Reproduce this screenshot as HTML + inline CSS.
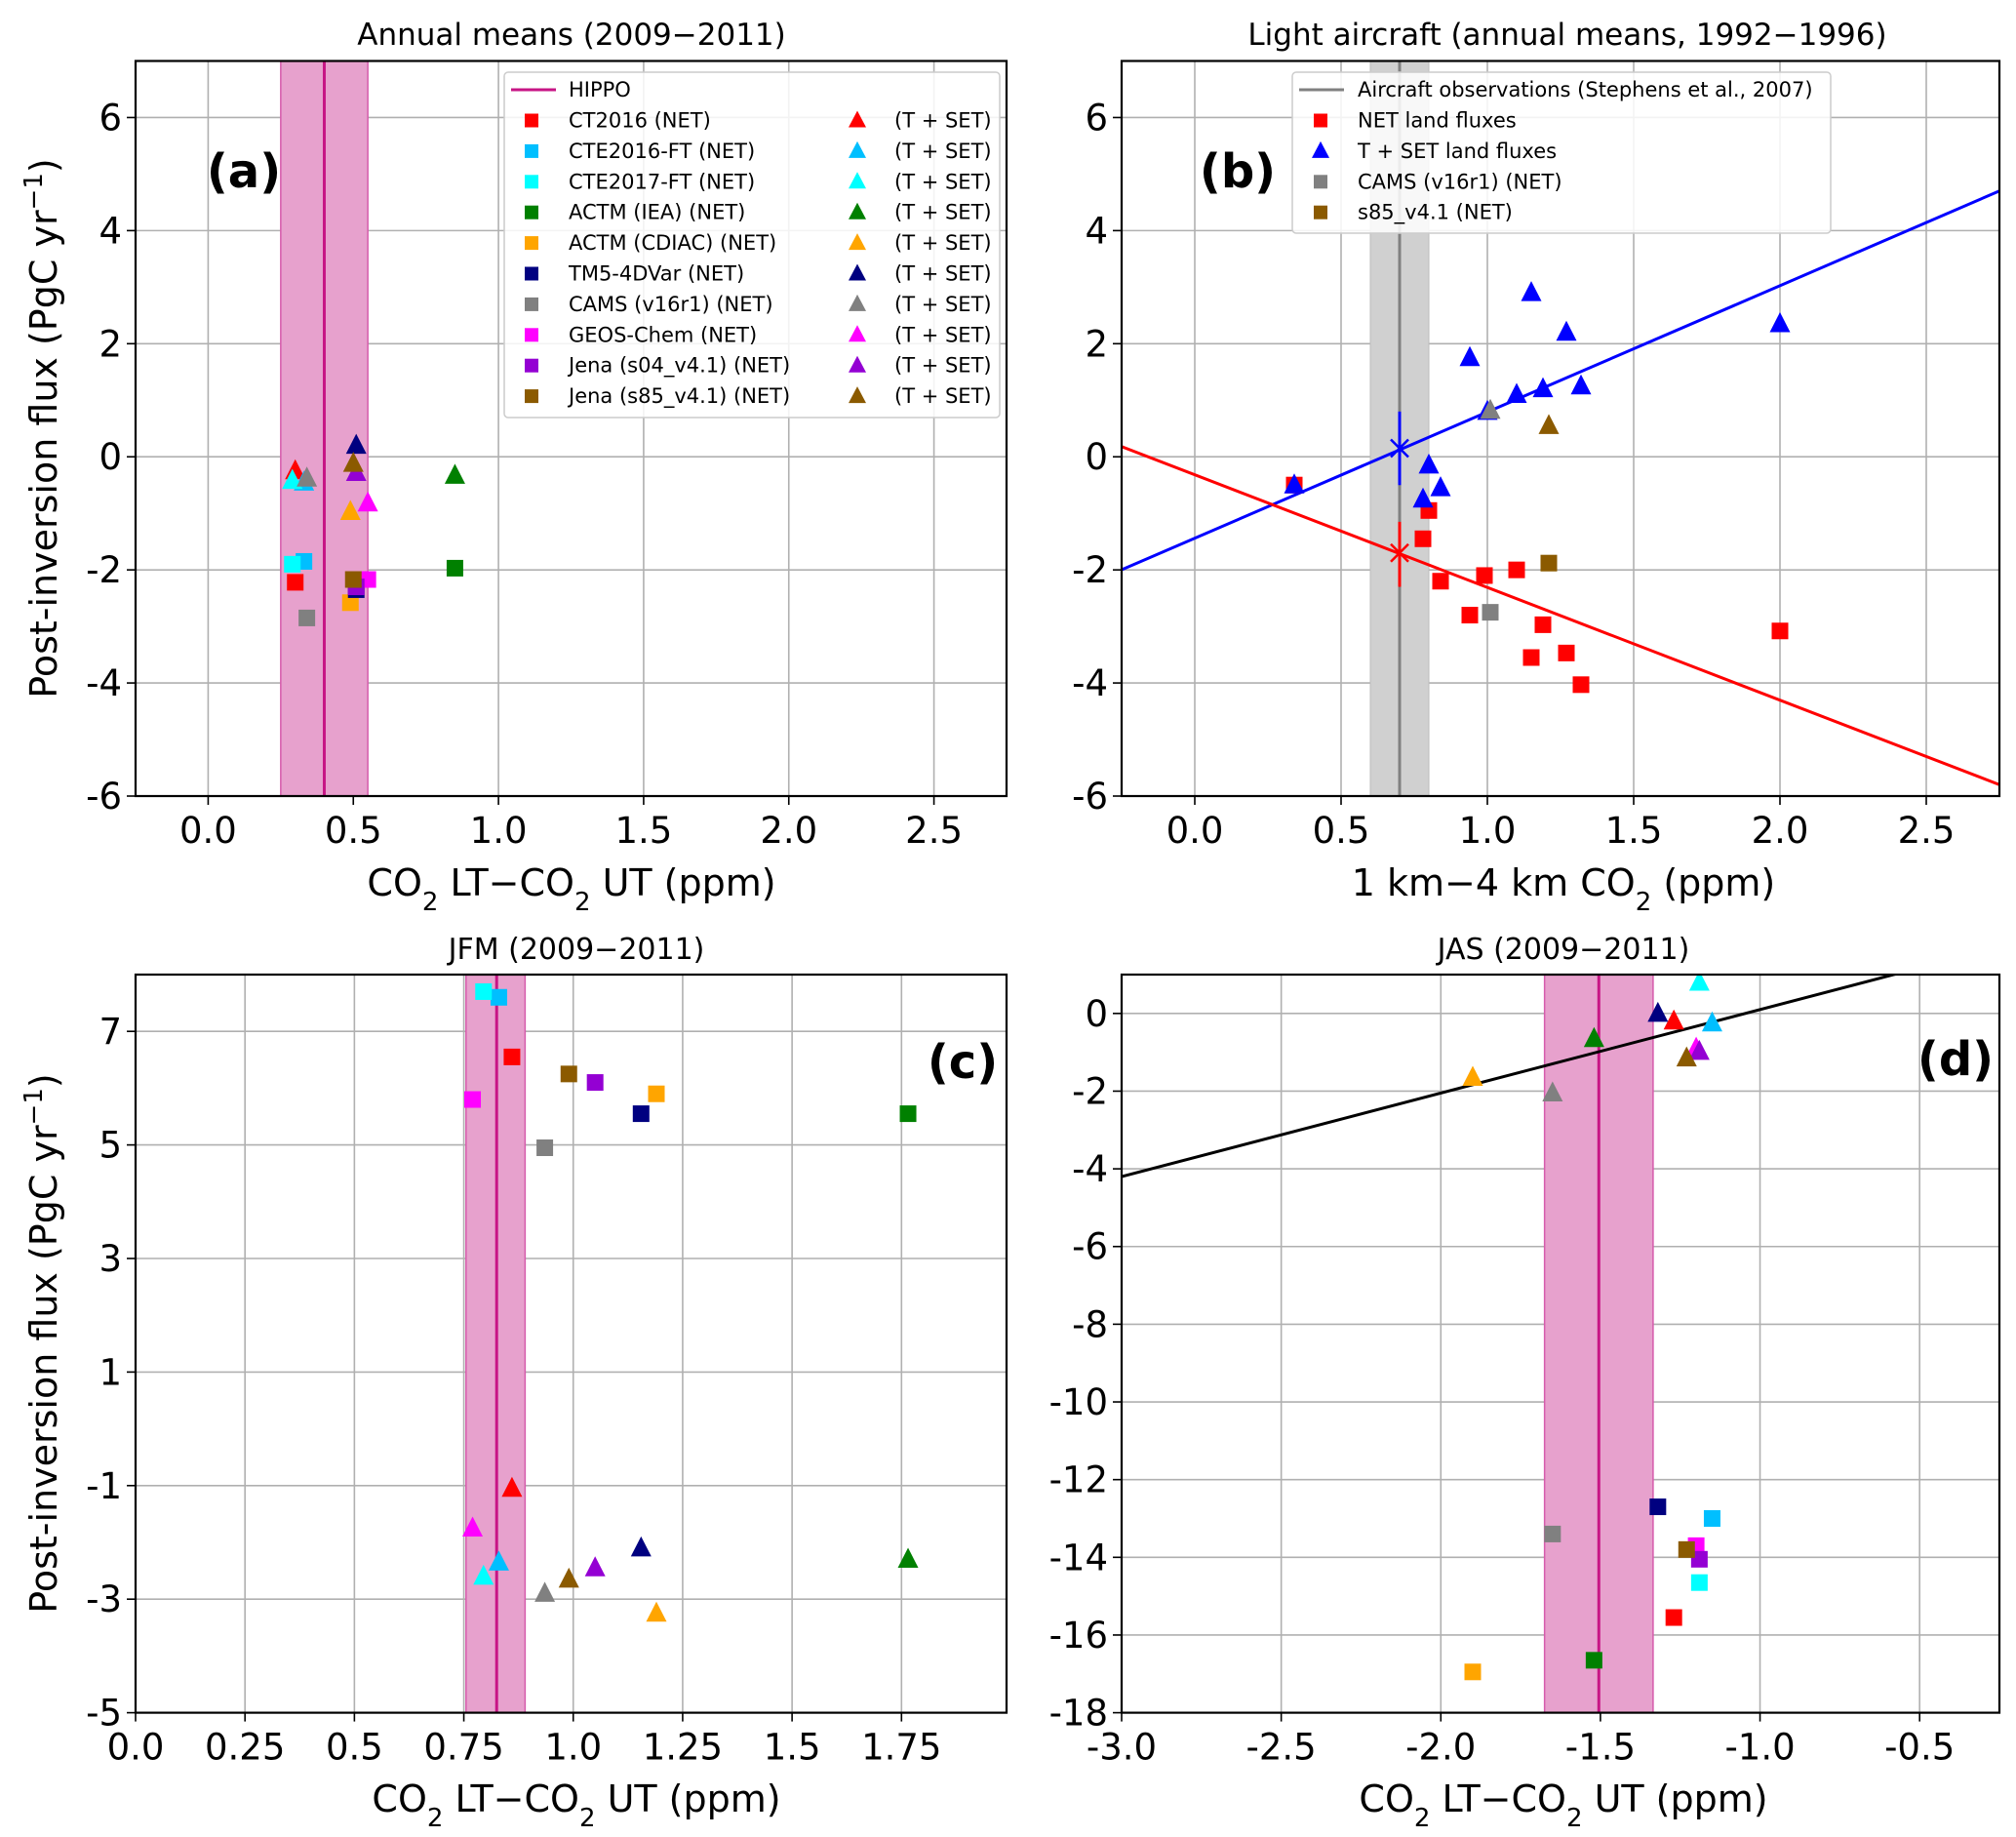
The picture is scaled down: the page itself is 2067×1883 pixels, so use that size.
<!DOCTYPE html>
<html><head><meta charset="utf-8"><style>
body{margin:0;background:#fff;}
svg{display:block;font-family:"DejaVu Sans","Liberation Sans",sans-serif;}
</style></head><body>
<svg id="fig" width="2067" height="1883" viewBox="0 0 2067 1883" xmlns="http://www.w3.org/2000/svg"></svg>
<script>
// ---- data ----
const models = ["CT2016","CTE2016-FT","CTE2017-FT","ACTM (IEA)","ACTM (CDIAC)","TM5-4DVar","CAMS (v16r1)","GEOS-Chem","Jena (s04_v4.1)","Jena (s85_v4.1)"];
const modelColors = ["#ff0000","#00bfff","#00ffff","#008000","#ffa500","#000080","#808080","#ff00ff","#9400d3","#8b5a00"];
// panel a
const aX = [0.30,0.33,0.29,0.85,0.49,0.51,0.34,0.55,0.51,0.50];
const aNet = [-2.22,-1.85,-1.90,-1.97,-2.58,-2.35,-2.85,-2.17,-2.30,-2.17];
const aTset = [-0.25,-0.45,-0.42,-0.33,-0.97,0.20,-0.38,-0.82,-0.28,-0.12];
const aHippo = [0.25,0.40,0.55];
// panel c
const cX = [0.86,0.83,0.795,1.765,1.19,1.155,0.935,0.77,1.05,0.99];
const cNet = [6.55,7.60,7.70,5.55,5.90,5.55,4.95,5.80,6.10,6.25];
const cTset = [-1.05,-2.35,-2.60,-2.30,-3.25,-2.10,-2.90,-1.75,-2.45,-2.65];
const cHippo = [0.755,0.825,0.89];
// panel d
const dX = [-1.27,-1.15,-1.19,-1.52,-1.90,-1.32,-1.65,-1.20,-1.19,-1.23];
const dNet = [-15.55,-13.0,-14.65,-16.65,-16.95,-12.7,-13.4,-13.7,-14.05,-13.8];
const dTset = [-0.20,-0.25,0.80,-0.65,-1.65,0.0,-2.05,-0.90,-0.98,-1.15];
const dHippo = [-1.675,-1.505,-1.335];
const dFit = [2.15, 2.25]; // slope, intercept
// panel b
const bNetX = [0.34,0.80,0.78,0.84,0.94,0.99,1.10,1.19,1.15,1.27,1.32,2.00];
const bNetY = [-0.50,-0.95,-1.45,-2.20,-2.80,-2.10,-2.00,-2.97,-3.55,-3.47,-4.03,-3.08];
const bTX = [0.34,0.80,0.84,0.78,0.94,1.15,1.27,1.10,1.19,1.32,1.00,2.00];
const bTY = [-0.50,-0.15,-0.55,-0.75,1.75,2.90,2.20,1.10,1.20,1.25,0.80,2.35];
const bCamsX = [1.01], bCamsNet=[-2.75], bCamsT=[0.82];
const bS85X = [1.21], bS85Net=[-1.88], bS85T=[0.55];
const bObs = [0.60,0.70,0.80];
const bBlueFit = [2.233,-1.44], bRedFit = [-1.993,-0.318];
const bBlueCross = [0.70,0.15,-0.50,0.80], bRedCross = [0.70,-1.70,-2.30,-1.15];
const ticksA = [0,0.5,1.0,1.5,2.0,2.5], ticksAL=["0.0","0.5","1.0","1.5","2.0","2.5"];
const yTicksA = [-6,-4,-2,0,2,4,6];
const ticksC = [0,0.25,0.5,0.75,1.0,1.25,1.5,1.75], ticksCL=["0.0","0.25","0.5","0.75","1.0","1.25","1.5","1.75"];
const yTicksC = [-5,-3,-1,1,3,5,7];
const ticksD = [-3,-2.5,-2,-1.5,-1,-0.5], ticksDL=["-3.0","-2.5","-2.0","-1.5","-1.0","-0.5"];
const yTicksD = [-18,-16,-14,-12,-10,-8,-6,-4,-2,0];

const NS="http://www.w3.org/2000/svg";
const svg=document.getElementById('fig');
function el(tag,attrs,parent,name,inter){const e=document.createElementNS(NS,tag);for(const k in attrs)e.setAttribute(k,attrs[k]);


(parent||svg).appendChild(e);return e;}
function txt(s,x,y,size,name,extra,parent){const t=el('text',Object.assign({x:x,y:y,'font-size':size,fill:'#000'},extra||{}),parent,name,false);t.textContent=s;return t;}

function makeAxes(p){
  const g=el('g',{},svg,p.name,false);
  p.sx=v=>p.L+(v-p.x0)/(p.x1-p.x0)*(p.R-p.L);
  p.sy=v=>p.B-(v-p.y0)/(p.y1-p.y0)*(p.B-p.T);
  const clipId='clip'+p.name;
  const cp=el('clipPath',{id:clipId},g,'clip-region',false);
  el('rect',{x:p.L,y:p.T,width:p.R-p.L,height:p.B-p.T},cp,'clip-rect',false);
  p.g=g; p.plot=el('g',{'clip-path':'url(#'+clipId+')'},g,'plot-area',false);
  p.grid=el('g',{},p.plot,'grid',false);
  p.xt.forEach((v,i)=>{const x=p.sx(v);
    el('line',{x1:x,x2:x,y1:p.T,y2:p.B,stroke:'#b0b0b0','stroke-width':1.6},p.grid,'x-gridline',false);
    el('line',{x1:x,x2:x,y1:p.B,y2:p.B+9,stroke:'#000','stroke-width':1.6},g,'x-tick',false);
    txt(p.xtl[i],x,p.B+48,37,'x-tick-label',{'text-anchor':'middle'},g);});
  p.yt.forEach(v=>{const y=p.sy(v);
    el('line',{x1:p.L,x2:p.R,y1:y,y2:y,stroke:'#b0b0b0','stroke-width':1.6},p.grid,'y-gridline',false);
    el('line',{x1:p.L-9,x2:p.L,y1:y,y2:y,stroke:'#000','stroke-width':1.6},g,'y-tick',false);
    txt(String(v),p.L-14,y+13,37,'y-tick-label',{'text-anchor':'end'},g);});
  return p;
}
function frame(p){el('rect',{x:p.L,y:p.T,width:p.R-p.L,height:p.B-p.T,fill:'none',stroke:'#000','stroke-width':2.2},p.g,'axes-frame',false);}
function sq(p,x,y,c,name){el('rect',{x:p.sx(x)-8.5,y:p.sy(y)-8.5,width:17,height:17,fill:c},p.plot,name,false);}
function tri(p,x,y,c,name){const X=p.sx(x),Y=p.sy(y);el('polygon',{points:`${X},${Y-12} ${X-10.5},${Y+8.5} ${X+10.5},${Y+8.5}`,fill:c},p.plot,name,false);}
function band(p,arr,name){el('rect',{x:p.sx(arr[0]),y:p.T,width:p.sx(arr[2])-p.sx(arr[0]),height:p.B-p.T,fill:'#e7a1cd',stroke:'#d65cac','stroke-width':1.5},p.plot,name,false);
  el('line',{x1:p.sx(arr[1]),x2:p.sx(arr[1]),y1:p.T,y2:p.B,stroke:'#c71585','stroke-width':3},p.plot,name+'-line',false);}
function fitLine(p,f,c,name){el('line',{x1:p.L,x2:p.R,y1:p.sy(f[0]*p.x0+f[1]),y2:p.sy(f[0]*p.x1+f[1]),stroke:c,'stroke-width':3},p.plot,name,false);}
function ylab(x,y){const t=el('text',{x:0,y:0,'font-size':38,'text-anchor':'middle',transform:`translate(${x},${y}) rotate(-90)`},svg,'y-axis-title',false);
  t.innerHTML='Post-inversion flux (PgC yr<tspan baseline-shift="super" font-size="26">−1</tspan>)';}
function xlabCO2(x,y){const t=el('text',{x:x,y:y,'font-size':38,'text-anchor':'middle'},svg,'x-axis-title',false);
  t.innerHTML='CO<tspan baseline-shift="sub" font-size="26">2</tspan> LT−CO<tspan baseline-shift="sub" font-size="26">2</tspan> UT (ppm)';}

// Panel A
const A=makeAxes({name:'panel-a',L:139,R:1032,T:62.5,B:816,x0:-0.25,x1:2.75,y0:-6,y1:7,xt:ticksA,xtl:ticksAL,yt:yTicksA});
band(A,aHippo,'hippo-band');
models.forEach((m,i)=>{sq(A,aX[i],aNet[i],modelColors[i],'net-marker');tri(A,aX[i],aTset[i],modelColors[i],'tset-marker');});
frame(A);
txt('Annual means (2009−2011)',586,46,31,'panel-a-title',{'text-anchor':'middle'});
txt('(a)',250,192,48,'panel-a-label',{'text-anchor':'middle','font-weight':'bold'});
xlabCO2(586,918); ylab(58,439);
// legend a
const la=el('g',{},svg,'legend-a',false);
el('rect',{x:517,y:74,width:508,height:354,fill:'#fff','fill-opacity':0.85,stroke:'#ccc','stroke-width':1.5,rx:4},la,'legend-box',false);
el('line',{x1:524,x2:570,y1:92,y2:92,stroke:'#c71585','stroke-width':3},la,'legend-hippo-line',false);
txt('HIPPO',583,99,21,'legend-entry',{},la);
models.forEach((m,i)=>{const y=123.5+i*31.4;
  el('rect',{x:538,y:y-7,width:14,height:14,fill:modelColors[i]},la,'legend-net-marker',false);
  txt(m+' (NET)',583,y+7,21,'legend-entry',{},la);
  el('polygon',{points:`${879},${y-10} ${870},${y+7} ${888},${y+7}`,fill:modelColors[i]},la,'legend-tset-marker',false);
  txt('(T + SET)',917,y+7,21,'legend-entry',{},la);});

// Panel B
const B=makeAxes({name:'panel-b',L:1150,R:2050,T:62.5,B:816,x0:-0.25,x1:2.75,y0:-6,y1:7,xt:ticksA,xtl:ticksAL,yt:yTicksA});
el('rect',{x:B.sx(bObs[0]),y:B.T,width:B.sx(bObs[2])-B.sx(bObs[0]),height:B.B-B.T,fill:'#d0d0d0',stroke:'#bbb','stroke-width':1},B.plot,'obs-band',false);
el('line',{x1:B.sx(bObs[1]),x2:B.sx(bObs[1]),y1:B.T,y2:B.B,stroke:'#808080','stroke-width':3},B.plot,'obs-line',false);
fitLine(B,bBlueFit,'#0000ff','tset-fit-line'); fitLine(B,bRedFit,'#ff0000','net-fit-line');
bNetX.forEach((x,i)=>sq(B,x,bNetY[i],'#ff0000','net-marker'));
bTX.forEach((x,i)=>tri(B,x,bTY[i],'#0000ff','tset-marker'));
sq(B,bCamsX[0],bCamsNet[0],'#808080','cams-net-marker');tri(B,bCamsX[0],bCamsT[0],'#808080','cams-tset-marker');
sq(B,bS85X[0],bS85Net[0],'#8b5a00','s85-net-marker');tri(B,bS85X[0],bS85T[0],'#8b5a00','s85-tset-marker');
[[bBlueCross,'#0000ff'],[bRedCross,'#ff0000']].forEach(([c,col])=>{const X=B.sx(c[0]),Y=B.sy(c[1]);
  el('line',{x1:X,x2:X,y1:B.sy(c[2]),y2:B.sy(c[3]),stroke:col,'stroke-width':3},B.plot,'error-bar',false);
  el('path',{d:`M${X-9},${Y-9}L${X+9},${Y+9}M${X-9},${Y+9}L${X+9},${Y-9}`,stroke:col,'stroke-width':2.5},B.plot,'obs-cross',false);});
frame(B);
txt('Light aircraft  (annual means, 1992−1996)',1607,46,31,'panel-b-title',{'text-anchor':'middle'});
txt('(b)',1269,192,48,'panel-b-label',{'text-anchor':'middle','font-weight':'bold'});
const bx=el('text',{x:1603,y:918,'font-size':38,'text-anchor':'middle'},svg,'x-axis-title',false);
bx.innerHTML='1 km−4 km CO<tspan baseline-shift="sub" font-size="26">2</tspan> (ppm)';
const lb=el('g',{},svg,'legend-b',false);
el('rect',{x:1325,y:74,width:552,height:165,fill:'#fff','fill-opacity':0.85,stroke:'#ccc','stroke-width':1.5,rx:4},lb,'legend-box',false);
el('line',{x1:1332,x2:1378,y1:92,y2:92,stroke:'#808080','stroke-width':3},lb,'legend-obs-line',false);
txt('Aircraft observations (Stephens et al., 2007)',1392,99,21,'legend-entry',{},lb);
const lbE=[['NET land fluxes','#ff0000','s'],['T + SET land fluxes','#0000ff','t'],['CAMS (v16r1) (NET)','#808080','s'],['s85_v4.1 (NET)','#8b5a00','s']];
lbE.forEach((e,i)=>{const y=123.5+i*31.4;
  if(e[2]==='s') el('rect',{x:1347,y:y-7,width:14,height:14,fill:e[1]},lb,'legend-marker',false);
  else el('polygon',{points:`1354,${y-10} 1345,${y+7} 1363,${y+7}`,fill:e[1]},lb,'legend-marker',false);
  txt(e[0],1392,y+7,21,'legend-entry',{},lb);});

// Panel C
const C=makeAxes({name:'panel-c',L:139,R:1032,T:999,B:1755.6,x0:0,x1:1.99,y0:-5,y1:8,xt:ticksC,xtl:ticksCL,yt:yTicksC});
band(C,cHippo,'hippo-band');
models.forEach((m,i)=>{sq(C,cX[i],cNet[i],modelColors[i],'net-marker');tri(C,cX[i],cTset[i],modelColors[i],'tset-marker');});
frame(C);
txt('JFM (2009−2011)',591,983,30,'panel-c-title',{'text-anchor':'middle'});
txt('(c)',987,1105,48,'panel-c-label',{'text-anchor':'middle','font-weight':'bold'});
xlabCO2(591,1857); ylab(58,1377);

// Panel D
const D=makeAxes({name:'panel-d',L:1150,R:2050,T:999,B:1755.6,x0:-3,x1:-0.25,y0:-18,y1:1,xt:ticksD,xtl:ticksDL,yt:yTicksD});
band(D,dHippo,'hippo-band');
fitLine(D,dFit,'#000','fit-line');
models.forEach((m,i)=>{sq(D,dX[i],dNet[i],modelColors[i],'net-marker');tri(D,dX[i],dTset[i],modelColors[i],'tset-marker');});
frame(D);
txt('JAS (2009−2011)',1603,983,30,'panel-d-title',{'text-anchor':'middle'});
txt('(d)',2005,1102,48,'panel-d-label',{'text-anchor':'middle','font-weight':'bold'});
xlabCO2(1603,1857);
</script>
</body></html>
